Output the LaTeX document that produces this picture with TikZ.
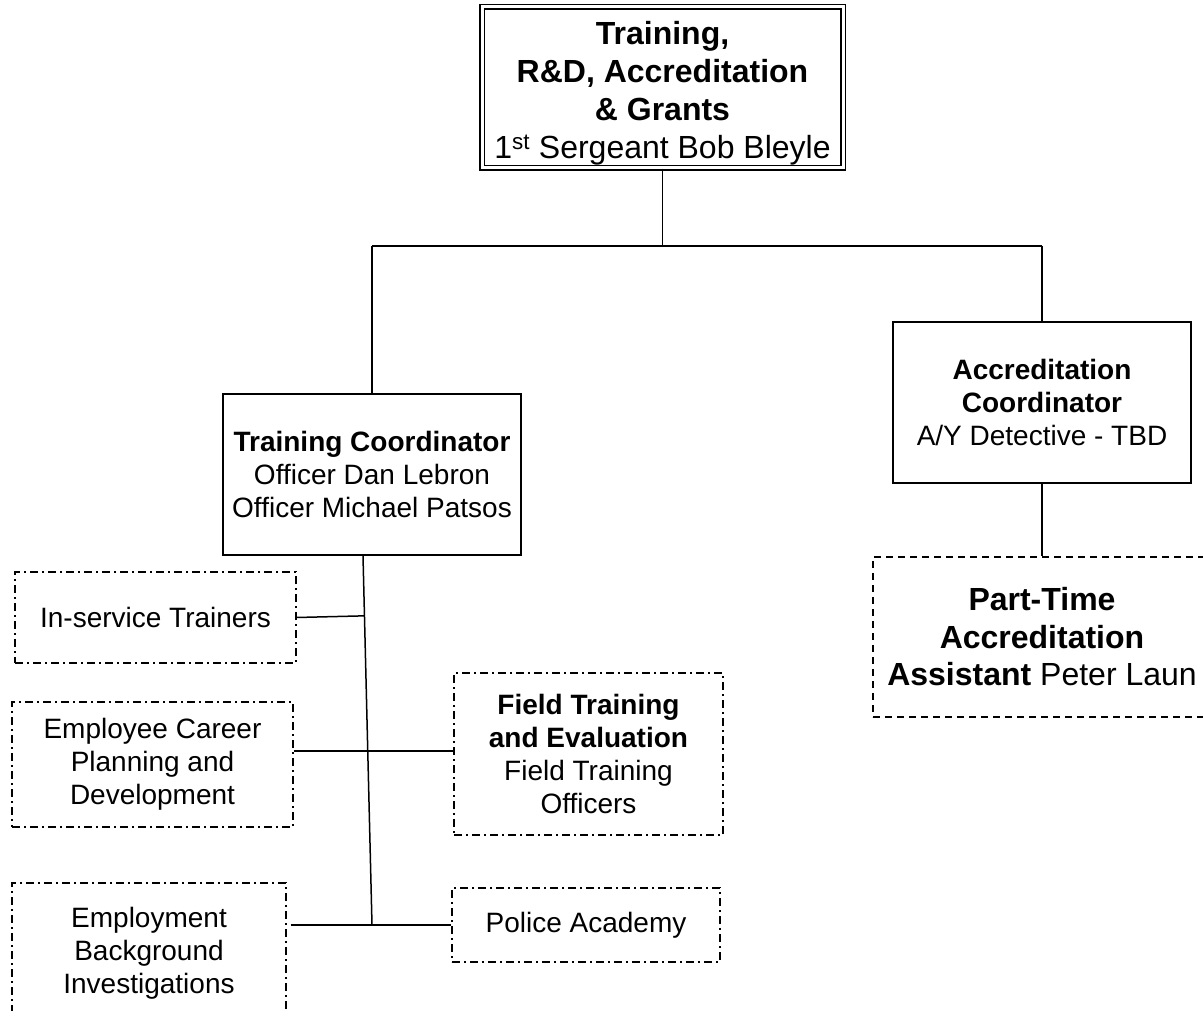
\documentclass[tikz,border=0pt]{standalone}
\usepackage{fontspec}
\setmainfont{Liberation Sans}
\usetikzlibrary{calc}
\begin{document}
\begin{tikzpicture}[x=1pt,y=-1pt,
  base/.style={draw, line width=1.6pt, align=center, inner sep=0pt, font=\fontsize{28}{33}\selectfont},
  solidbox/.style={base},
  dashdotbox/.style={base, line width=1.3pt, dash pattern=on 8pt off 4pt on 2pt off 4pt},
  dashbox/.style={base, line width=1.3pt, dash pattern=on 7pt off 5pt, font=\fontsize{32}{37.5}\selectfont},
  topbox/.style={base, double, double distance=3pt, line width=1.2pt, font=\fontsize{32}{38}\selectfont},
  conn/.style={line width=1.5pt}]
\useasboundingbox (0,0) rectangle (1203,1011);
\fill[white] (0,0) rectangle (1203,1011);

\node[topbox, minimum width=361pt, minimum height=161pt] (top) at (662.5,87.5)
  {\rule{0pt}{35pt}\textbf{Training,}\\\textbf{R\&D, Accreditation}\\\textbf{\& Grants}\\1\textsuperscript{st} Sergeant Bob Bleyle};

\node[solidbox, minimum width=298pt, minimum height=161pt] (TC) at (372,474.5)
  {\textbf{Training Coordinator}\\Officer Dan Lebron\\Officer Michael Patsos};

\node[solidbox, minimum width=298pt, minimum height=161pt] (AC) at (1042,402.5)
  {\textbf{Accreditation}\\\textbf{Coordinator}\\A/Y Detective - TBD};

\node[dashbox, minimum width=338pt, minimum height=160pt] (PT) at (1042,637)
  {\textbf{Part-Time}\\\textbf{Accreditation}\\\textbf{Assistant} Peter Laun};

\node[dashdotbox, minimum width=281pt, minimum height=91pt] (IS) at (155.5,617.5)
  {In-service Trainers};

\node[dashdotbox, minimum width=281pt, minimum height=125pt] (EC) at (152.5,764.5)
  {Employee Career\\Planning and\\Development};

\node[dashdotbox, minimum width=269pt, minimum height=162pt] (FT) at (588.5,754)
  {\textbf{Field Training}\\\textbf{and Evaluation}\\Field Training\\Officers};

\node[dashdotbox, minimum width=274pt, minimum height=140pt] (EB) at (149,953)
  {Employment\\Background\\Investigations};

\node[dashdotbox, minimum width=268pt, minimum height=74pt] (PA) at (586,925)
  {Police Academy};

% connectors
\coordinate (hl) at (0,246);
\draw[conn] (top.south) -- (top.south |- hl);
\draw[conn] (TC.north |- hl) -- (AC.north |- hl);
\draw[conn] (TC.north |- hl) -- (TC.north);
\draw[conn] (AC.north |- hl) -- (AC.north);
\draw[conn] (AC.south) -- (PT.north);

\coordinate (tA) at ([xshift=-9pt]TC.south);
\coordinate (tB) at (TC.south |- PA.west);
\draw[conn] (tA) -- (tB);
\draw[conn] (IS.east) -- ($(tA)!(IS.east)!(tB)$);
\draw[conn] (EC.east |- 0,751) -- (FT.west |- 0,751);
\draw[conn] ([xshift=4pt]EB.east |- PA.west) -- (PA.west);
\end{tikzpicture}
\end{document}
